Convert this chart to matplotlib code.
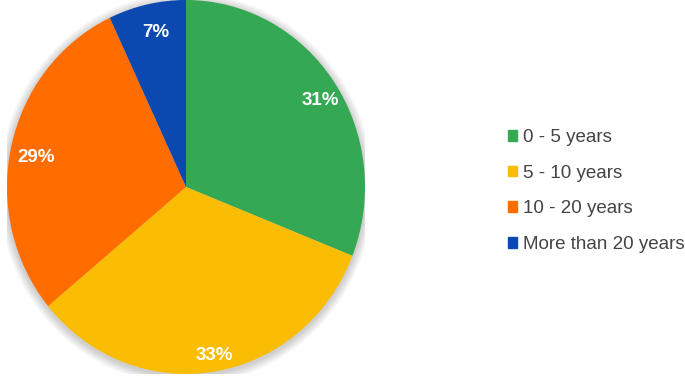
import matplotlib
matplotlib.use("Agg")
import matplotlib.pyplot as plt
import matplotlib.patches as mpatches
import matplotlib.transforms as mtransforms

categories = ["0 - 5 years", "5 - 10 years", "10 - 20 years", "More than 20 years"]
shares = [31, 33, 29, 7]
colors = ["#34A853", "#FBBC04", "#FF6D01", "#0B48AF"]

plt.rcParams["font.family"] = ["Liberation Sans", "DejaVu Sans"]

W, H = 685, 383
fig = plt.figure(figsize=(W / 100, H / 100), dpi=100)
# the original pie is slightly taller than wide
ax = fig.add_axes([7 / W, 9 / H, 358 / W, 374 / H])

# soft drop shadow around the pie
for i in range(8):
    r = 1.0 + 0.006 * (i + 1)
    ax.add_patch(mpatches.Circle((0.0, -0.01), r, color="#000000", alpha=0.022, lw=0, zorder=0))

wedges, texts, autotexts = ax.pie(
    shares, colors=colors, startangle=90, counterclock=False,
    autopct=lambda p: f"{p:.0f}%", pctdistance=0.88, radius=1.0,
    wedgeprops=dict(linewidth=0), textprops=dict(color="white", fontsize=13.5, fontweight="bold"),
)
for w in wedges:
    w.set_zorder(2)
# labels sit a little lower/right of the slice midline in the original
nudge = mtransforms.ScaledTranslation(4 / 100, -6 / 100, fig.dpi_scale_trans)
for t in autotexts:
    t.set_zorder(3)
    t.set_transform(t.get_transform() + nudge)

ax.set_aspect("auto")
ax.set_xlim(-1.0, 1.0)
ax.set_ylim(-1.0, 1.0)
ax.axis("off")

handles = [mpatches.Patch(color=c, label=l) for c, l in zip(colors, categories)]
fig.legend(
    handles=handles, loc="center left", bbox_to_anchor=(508 / W, 1 - 191 / H),
    frameon=False, fontsize=13.5, labelcolor="#444444", borderpad=0, borderaxespad=0,
    handlelength=0.5, handleheight=0.5, handletextpad=0.3, labelspacing=0.99,
)

fig.savefig("out.png", dpi=100)
